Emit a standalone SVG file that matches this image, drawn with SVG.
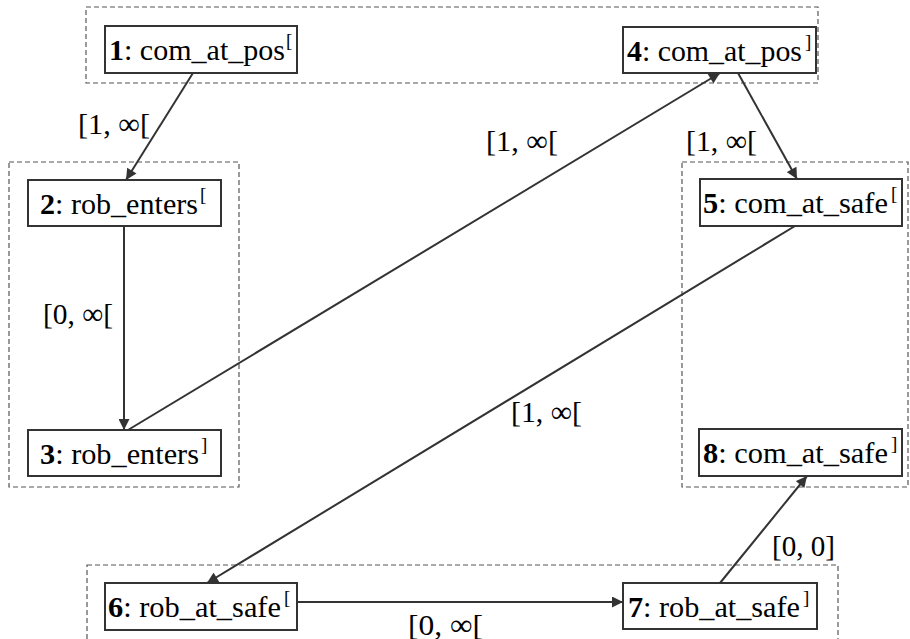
<svg xmlns="http://www.w3.org/2000/svg" width="910" height="639" viewBox="0 0 910 639">
<defs>
<marker id="ah" viewBox="0 0 10 10" refX="10" refY="5" markerWidth="12" markerHeight="11" markerUnits="userSpaceOnUse" orient="auto">
<path d="M0,0 L10,5 L0,10 z" fill="#333"/>
</marker>
<style>
.cl{fill:none;stroke:#555;stroke-width:1.2;stroke-dasharray:5,3}
.nd{fill:#fff;stroke:#333;stroke-width:2}
.t{font-family:"Liberation Serif","Times New Roman",serif;font-size:29px;fill:#000}
.b{font-weight:bold}
.sup{font-family:"Liberation Serif","Times New Roman",serif;font-size:19px;fill:#000}
.e{fill:none;stroke:#333;stroke-width:2;marker-end:url(#ah)}
.lb{font-family:"Liberation Serif","Times New Roman",serif;font-size:30px;fill:#000}
</style>
</defs>
<rect width="910" height="639" fill="#fff"/>
<g id="clusters">
<rect class="cl" x="86" y="7" width="732" height="76"/>
<rect class="cl" x="9" y="162" width="230" height="325"/>
<rect class="cl" x="682" y="162" width="226" height="325"/>
<rect class="cl" x="87" y="565" width="751" height="90"/>
</g>
<g id="connectors">
<line class="e" x1="193" y1="73" x2="126" y2="180"/>
<line class="e" x1="124" y1="226" x2="124" y2="430"/>
<line class="e" x1="128" y1="430" x2="720" y2="73"/>
<line class="e" x1="738" y1="73" x2="797" y2="179"/>
<line class="e" x1="795" y1="226" x2="207" y2="583"/>
<line class="e" x1="297" y1="602" x2="623" y2="602"/>
<line class="e" x1="720" y1="583" x2="807" y2="476"/>
<text class="lb" x="78" y="134" textLength="72" lengthAdjust="spacingAndGlyphs">[1, ∞[</text>
<text class="lb" x="43" y="324" textLength="70" lengthAdjust="spacingAndGlyphs">[0, ∞[</text>
<text class="lb" x="486" y="151" textLength="72" lengthAdjust="spacingAndGlyphs">[1, ∞[</text>
<text class="lb" x="686" y="151" textLength="71" lengthAdjust="spacingAndGlyphs">[1, ∞[</text>
<text class="lb" x="511" y="422" textLength="71" lengthAdjust="spacingAndGlyphs">[1, ∞[</text>
<text class="lb" x="408" y="635" textLength="75" lengthAdjust="spacingAndGlyphs">[0, ∞[</text>
<text class="lb" x="772" y="556" textLength="63" lengthAdjust="spacingAndGlyphs">[0, 0]</text>
</g>
<g id="n1">
<rect class="nd" x="105" y="26" width="192" height="47"/>
<text class="t" x="109" y="60" textLength="176" lengthAdjust="spacingAndGlyphs"><tspan class="b">1</tspan>: com_at_pos</text>
<text class="sup" x="286" y="47">[</text>
</g>
<g id="n2">
<rect class="nd" x="28" y="180" width="193" height="46"/>
<text class="t" x="40" y="214" textLength="158" lengthAdjust="spacingAndGlyphs"><tspan class="b">2</tspan>: rob_enters</text>
<text class="sup" x="200" y="201">[</text>
</g>
<g id="n3">
<rect class="nd" x="28" y="430" width="193" height="46"/>
<text class="t" x="40" y="464" textLength="159" lengthAdjust="spacingAndGlyphs"><tspan class="b">3</tspan>: rob_enters</text>
<text class="sup" x="201" y="451">]</text>
</g>
<g id="n4">
<rect class="nd" x="623" y="27" width="193" height="46"/>
<text class="t" x="627" y="61" textLength="175" lengthAdjust="spacingAndGlyphs"><tspan class="b">4</tspan>: com_at_pos</text>
<text class="sup" x="805" y="48">]</text>
</g>
<g id="n5">
<rect class="nd" x="700" y="179" width="202" height="47"/>
<text class="t" x="703" y="213" textLength="185" lengthAdjust="spacingAndGlyphs"><tspan class="b">5</tspan>: com_at_safe</text>
<text class="sup" x="891" y="200">[</text>
</g>
<g id="n6">
<rect class="nd" x="105" y="583" width="192" height="47"/>
<text class="t" x="108" y="617" textLength="173" lengthAdjust="spacingAndGlyphs"><tspan class="b">6</tspan>: rob_at_safe</text>
<text class="sup" x="284" y="604">[</text>
</g>
<g id="n7">
<rect class="nd" x="623" y="583" width="194" height="46"/>
<text class="t" x="628" y="617" textLength="172" lengthAdjust="spacingAndGlyphs"><tspan class="b">7</tspan>: rob_at_safe</text>
<text class="sup" x="803" y="604">]</text>
</g>
<g id="n8">
<rect class="nd" x="699" y="429" width="203" height="47"/>
<text class="t" x="703" y="463" textLength="185" lengthAdjust="spacingAndGlyphs"><tspan class="b">8</tspan>: com_at_safe</text>
<text class="sup" x="891" y="450">]</text>
</g>
</svg>
